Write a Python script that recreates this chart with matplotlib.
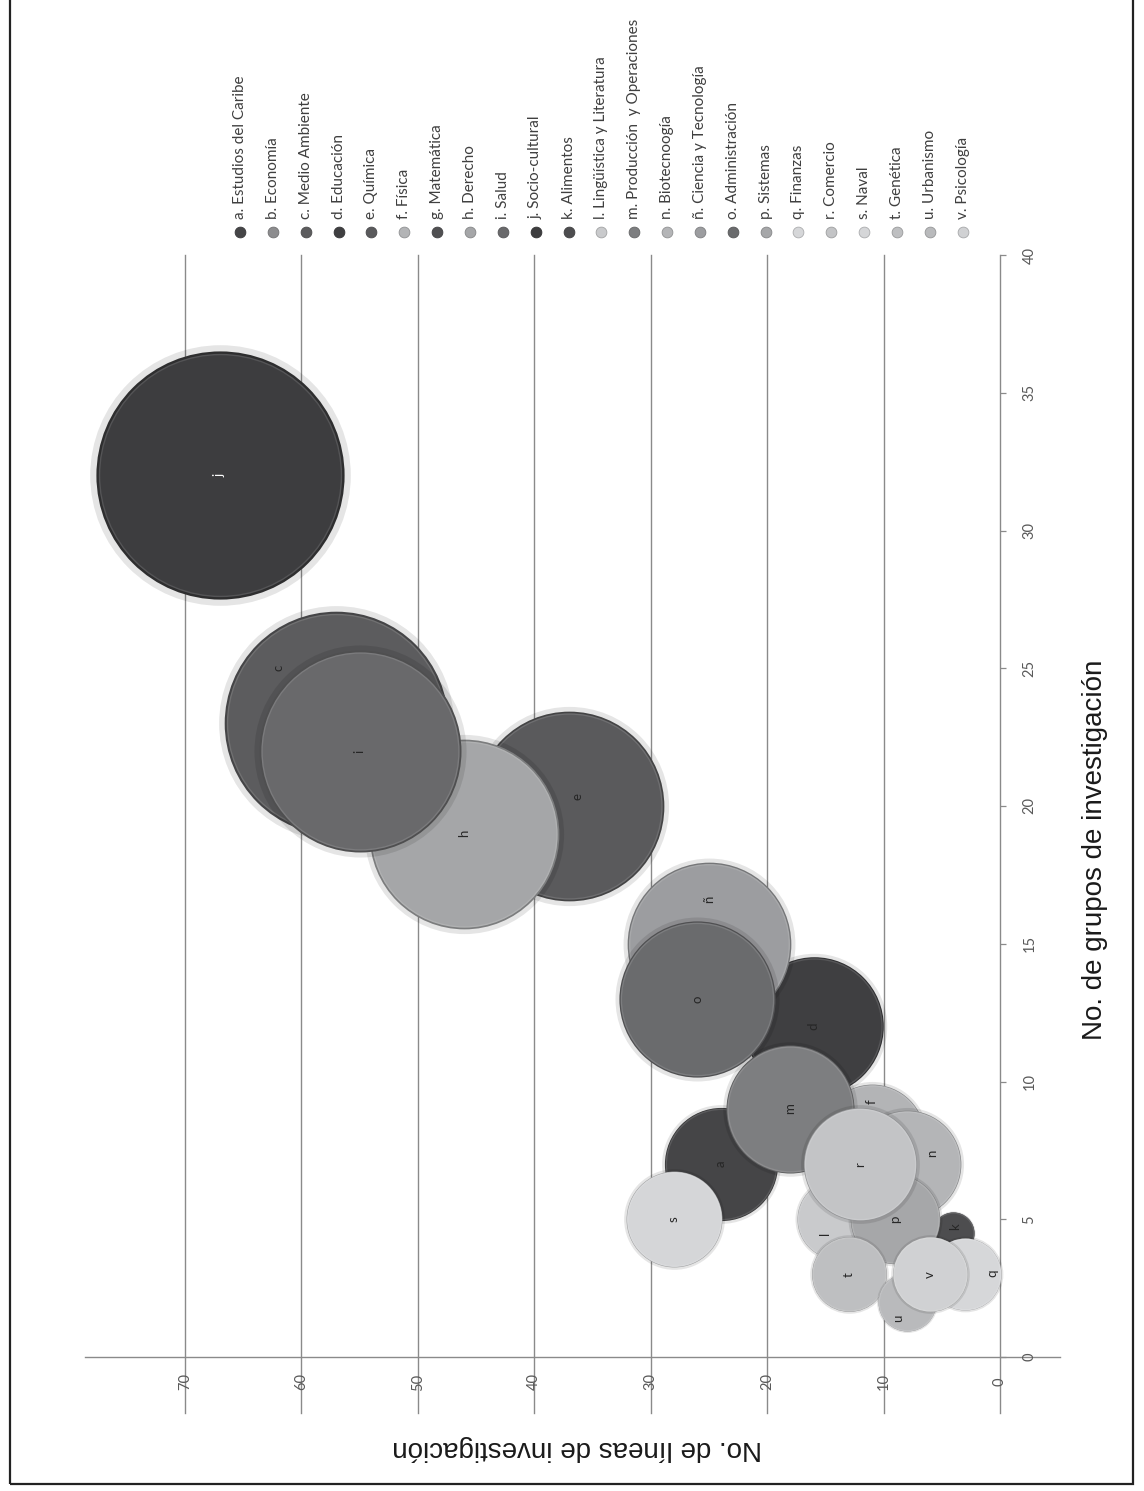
import numpy as np
import matplotlib
matplotlib.use("Agg")
import matplotlib.pyplot as plt
from matplotlib.patches import Rectangle
from matplotlib.colors import to_rgb

# Áreas de conocimiento (clave y nombre)
claves = ["a", "b", "c", "d", "e", "f", "g", "h", "i", "j", "k", "l",
          "m", "n", "ñ", "o", "p", "q", "r", "s", "t", "u", "v"]
areas = ["Estudios del Caribe", "Economía", "Medio Ambiente", "Educación",
         "Química", "Física", "Matemática", "Derecho", "Salud",
         "Socio-cultural", "Alimentos", "Lingüística y Literatura",
         "Producción  y Operaciones", "Biotecnoogía", "Ciencia y Tecnología",
         "Administración", "Sistemas", "Finanzas", "Comercio", "Naval",
         "Genética", "Urbanismo", "Psicología"]

# Número de grupos y de líneas de investigación por área
grupos = [7, np.nan, 23, 12, 20, 8, np.nan, 19, 22, 32, 4.5, 5,
          9, 7, 15, 13, 5, 3, 7, 5, 3, 2, 3]
lineas = [24, np.nan, 57, 16, 37, 11, np.nan, 46, 55, 67, 4, 14,
          18, 8, 25, 26, 9, 3, 12, 28, 13, 8, 6]
# Tamaño relativo de cada burbuja
tamano = [32, np.nan, 125, 48, 90, 28, np.nan, 90, 102, 154, 4.4, 16,
          41, 29, 67, 61, 20, 13, 32, 23, 14, 8.4, 14]

colores = ["#454547", "#8c8c8e", "#5c5c5e", "#3f3f41", "#5a5a5c", "#b3b4b6",
           "#505052", "#a5a6a8", "#69696b", "#3d3d3f", "#4d4d4f", "#c9cacc",
           "#7d7e80", "#b4b5b7", "#9c9da0", "#6a6b6d", "#a6a7a9", "#d6d7d9",
           "#c3c4c6", "#d5d6d8", "#bebfc1", "#b9babc", "#d0d1d3"]

# Desplazamiento (en puntos) de las etiquetas que quedarían ocultas
desplaz = {"c": (-42, 40), "ñ": (0, 32), "f": (0, 25), "n": (18, 8),
           "l": (-8.6, -10), "u": (-6.5, -11.5), "q": (19.4, 0.7),
           "k": (1.4, 4.3), "e": (5.8, 6.5)}

ticks_lineas = [0, 10, 20, 30, 40, 50, 60, 70]
ticks_grupos = [0, 5, 10, 15, 20, 25, 30, 35, 40]

W, H = 1144, 1491
fig = plt.figure(figsize=(W / 100, H / 100), dpi=100)
fig.patch.set_facecolor("white")

# Área de trazado (gráfico girado: grupos en vertical, líneas en horizontal)
x_left, x_right, y_top, y_bot = 85, 1000, 255, 1357
ax = fig.add_axes([x_left / W, 1 - y_bot / H,
                   (x_right - x_left) / W, (y_bot - y_top) / H])
px_linea = (1000 - 185) / 70.0
ax.set_xlim((x_right - x_left) / px_linea, 0)
ax.set_ylim(0, 40)
for sp in ax.spines.values():
    sp.set_visible(False)
ax.patch.set_alpha(0)

gris = "#8a8a8a"
alto = y_bot - y_top
ancho = x_right - x_left
for v in ticks_lineas:
    ax.axvline(v, ymin=-56 / alto, ymax=1, color=gris, lw=1.0,
               clip_on=False, zorder=0.5)
ax.axhline(0, xmin=0, xmax=1 + 60 / ancho, color=gris, lw=1.0,
           clip_on=False, zorder=0.5)

fuente_ejes = "Lato"
ax.set_xticks(ticks_lineas)
ax.set_xticklabels([str(v) for v in ticks_lineas])
ax.tick_params(axis="x", length=0, pad=18, labelrotation=90,
               labelsize=10.5, labelcolor="#595959")
for lab in ax.get_xticklabels():
    lab.set_va("center")
    lab.set_family(fuente_ejes)

ax.yaxis.tick_right()
ax.set_yticks(ticks_grupos)
ax.set_yticklabels([str(v) for v in ticks_grupos])
ax.tick_params(axis="y", direction="out", length=4.3, width=0.9, color=gris,
               pad=17, labelrotation=90, labelsize=10.5, labelcolor="#595959")
for lab in ax.get_yticklabels():
    lab.set_ha("center")
    lab.set_va("center")
    lab.set_family(fuente_ejes)


def oscurecer(c, f):
    r, g, b = to_rgb(c)
    return (r * f, g * f, b * f)


def aclarar(c, f):
    r, g, b = to_rgb(c)
    return (r + (1 - r) * f, g + (1 - g) * f, b + (1 - b) * f)


# Burbujas con sombra suave y borde, en el orden de las series
for i, clave in enumerate(claves):
    if np.isnan(grupos[i]):
        continue
    z = 2 + i
    s = tamano[i] * 207.36
    ax.scatter(lineas[i], grupos[i], s=s * 1.05 ** 2, color="black",
               alpha=0.10, lw=0, zorder=z, clip_on=False)
    ax.scatter(lineas[i], grupos[i], s=s, color=oscurecer(colores[i], 0.75),
               lw=0, zorder=z + 0.1, clip_on=False)
    ax.scatter(lineas[i], grupos[i], s=s * 0.95, color=colores[i],
               edgecolor=aclarar(colores[i], 0.12), lw=1.0,
               zorder=z + 0.2, clip_on=False)
    color_txt = "white" if clave == "j" else "#262626"
    ax.annotate(clave, (lineas[i], grupos[i]),
                xytext=desplaz.get(clave, (0, 0)), textcoords="offset points",
                rotation=90, ha="center", va="center", fontsize=9.5,
                family="Lato", color=color_txt, zorder=z + 0.3,
                annotation_clip=False)

# Leyenda girada en la parte superior
x0_leg, paso_leg = 240, 32.85
leg = fig.add_axes([(x0_leg - paso_leg / 2) / W, 1 - 241 / H,
                    paso_leg * len(claves) / W, 18 / H])
leg.set_xlim(-0.5, len(claves) - 0.5)
leg.set_ylim(0, 1)
leg.axis("off")
for i, (clave, area) in enumerate(zip(claves, areas)):
    leg.scatter(i, 0.5, s=60, color=colores[i],
                edgecolor=oscurecer(colores[i], 0.8), lw=0.6, clip_on=False)
    leg.text(i, 1.2, f"{clave}. {area}", rotation=90, ha="center",
             va="bottom", fontsize=11, family="Lato", color="#3f3f3f")

# Títulos de los ejes
fig.text(1095 / W, 1 - 850 / H, "No. de grupos de investigación",
         rotation=90, ha="center", va="center", fontsize=20,
         family="Liberation Sans", color="#1a1a1a")
fig.text(577 / W, 1 - 1448 / H, "No. de líneas de investigación",
         rotation=180, ha="center", va="center", fontsize=20,
         family="Liberation Sans", color="#1a1a1a")

# Marco exterior
fig.add_artist(Rectangle((10 / W, 1 - 1484 / H), (1133 - 10) / W,
                         1484 / H + 0.01, transform=fig.transFigure,
                         fill=False, lw=1.6, edgecolor="#222222"))

fig.savefig("out.png", dpi=100)
